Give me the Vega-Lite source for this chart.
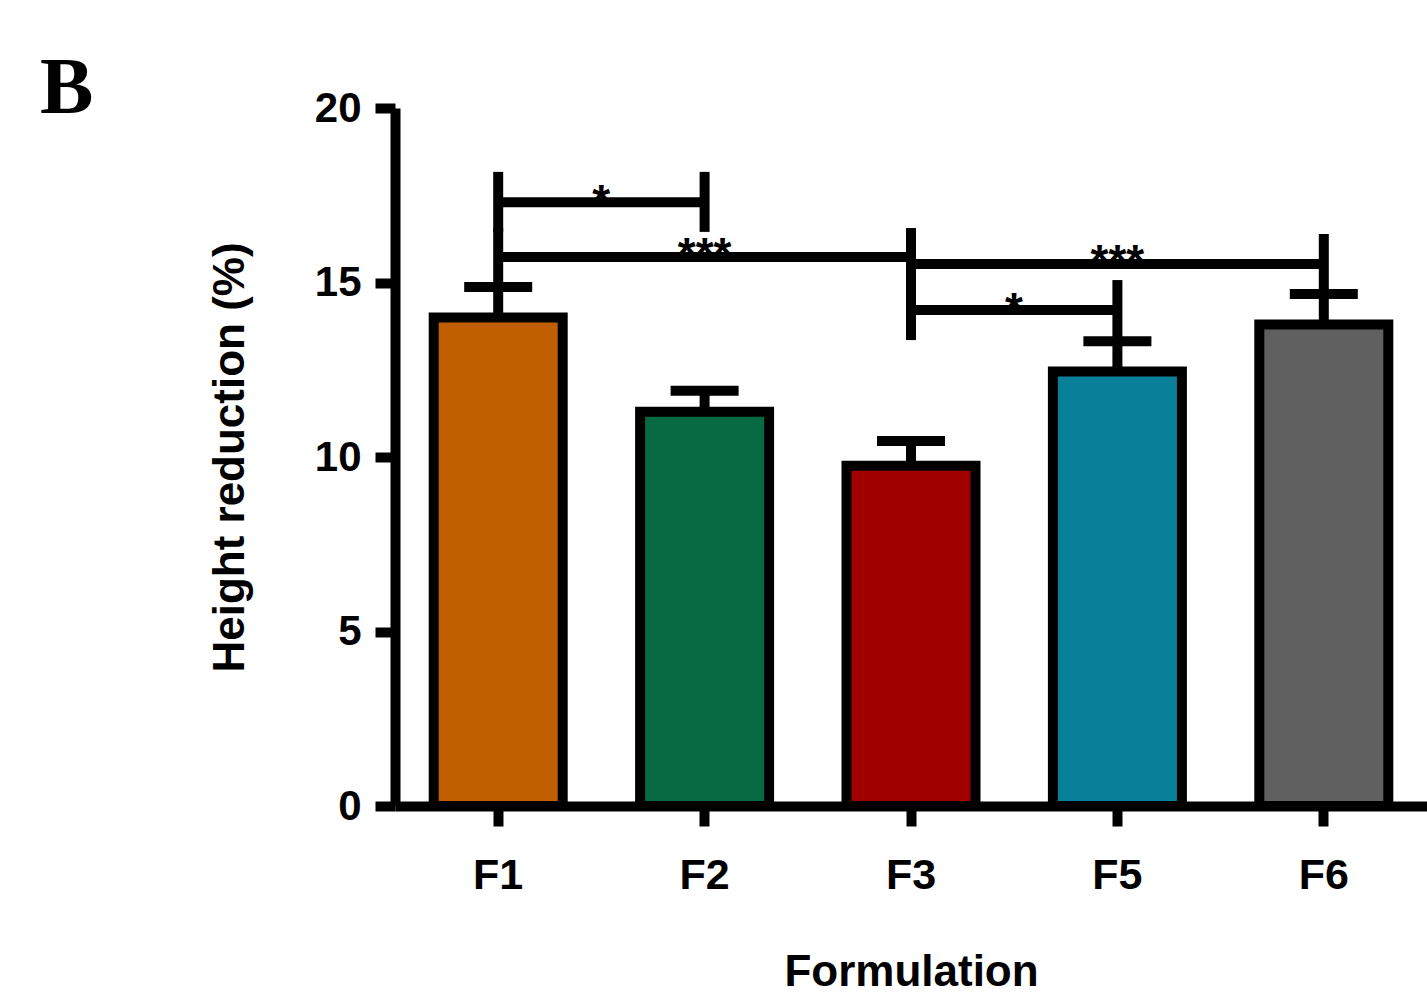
{
  "$schema": "https://vega.github.io/schema/vega-lite/v6.json",
  "width": 1032,
  "height": 698,
  "autosize": "none",
  "padding": {"left": 395, "top": 108, "right": 0, "bottom": 191},
  "background": "white",
  "config": {
    "view": {"stroke": null},
    "axis": {
      "domainColor": "black", "domainWidth": 10,
      "tickColor": "black", "tickWidth": 10, "tickSize": 20,
      "labelFont": "Liberation Sans", "labelFontWeight": "bold", "labelColor": "black",
      "titleFont": "Liberation Sans", "titleFontWeight": "bold", "titleColor": "black",
      "grid": false
    }
  },
  "title": {
    "text": "B", "anchor": "start", "frame": "group",
    "font": "Liberation Serif", "fontSize": 80, "fontWeight": "bold", "color": "black",
    "baseline": "alphabetic", "offset": 0, "dx": -355, "dy": 106
  },
  "datasets": {
    "bars": [
      {"f": "F1", "mean": 14.0, "upper": 14.87},
      {"f": "F2", "mean": 11.3, "upper": 11.9},
      {"f": "F3", "mean": 9.75, "upper": 10.46},
      {"f": "F5", "mean": 12.45, "upper": 13.32},
      {"f": "F6", "mean": 13.8, "upper": 14.67}
    ],
    "brackets": [
      {"from": "F1", "to": "F2", "mid": "F2", "level": 17.3, "lo1": 16.45, "hi1": 18.17, "lo2": 16.45, "hi2": 18.17, "label": "*"},
      {"from": "F1", "to": "F3", "mid": "F2", "level": 15.73, "lo1": 14.87, "hi1": 16.56, "lo2": 14.61, "hi2": 16.56, "label": "***"},
      {"from": "F3", "to": "F6", "mid": "F5", "level": 15.53, "lo1": 14.67, "hi1": 16.39, "lo2": 14.67, "hi2": 16.39, "label": "***"},
      {"from": "F3", "to": "F5", "mid": "F5", "level": 14.21, "lo1": 13.35, "hi1": 15.07, "lo2": 13.35, "hi2": 15.07, "label": "*"}
    ]
  },
  "layer": [
    {
      "data": {"name": "bars"},
      "mark": {"type": "rule", "strokeWidth": 10, "color": "black"},
      "encoding": {
        "x": {
          "field": "f", "type": "nominal", "sort": ["F1", "F2", "F3", "F5", "F6"],
          "scale": {"domain": ["F1", "F2", "F3", "F5", "F6"], "paddingInner": 0.375, "paddingOuter": 0.1875},
          "axis": {"title": "Formulation", "labelAngle": 0, "labelFontSize": 43, "labelPadding": 28, "titleFontSize": 44, "titlePadding": 53}
        },
        "y": {
          "field": "mean", "type": "quantitative",
          "scale": {"domain": [0, 20], "nice": false},
          "axis": {"title": "Height reduction (%)", "values": [0, 5, 10, 15, 20], "labelFontSize": 42, "labelPadding": 14, "titleFontSize": 44, "titlePadding": 62}
        },
        "y2": {"field": "upper"}
      }
    },
    {
      "data": {"name": "bars"},
      "mark": {"type": "tick", "color": "black", "size": 68, "thickness": 10, "opacity": 1},
      "encoding": {
        "x": {"field": "f", "type": "nominal"},
        "y": {"field": "upper", "type": "quantitative"}
      }
    },
    {
      "data": {"name": "bars"},
      "mark": {"type": "bar", "stroke": "black", "strokeWidth": 10},
      "encoding": {
        "x": {"field": "f", "type": "nominal"},
        "y": {"field": "mean", "type": "quantitative"},
        "fill": {
          "field": "f", "type": "nominal",
          "scale": {"domain": ["F1", "F2", "F3", "F5", "F6"], "range": ["#c05f00", "#076a43", "#a00000", "#08809a", "#606060"]},
          "legend": null
        }
      }
    },
    {
      "data": {"name": "brackets"},
      "transform": [{"filter": "datum.label === '*'"}],
      "mark": {"type": "text", "font": "Liberation Sans", "fontWeight": "bold", "fontSize": 46, "color": "black", "baseline": "alphabetic", "dx": 103, "dy": 15},
      "encoding": {
        "x": {"field": "from", "type": "nominal"},
        "y": {"field": "level", "type": "quantitative"},
        "text": {"field": "label"}
      }
    },
    {
      "data": {"name": "brackets"},
      "transform": [{"filter": "datum.label === '***'"}],
      "mark": {"type": "text", "font": "Liberation Sans", "fontWeight": "bold", "fontSize": 46, "color": "black", "baseline": "alphabetic", "dy": 13},
      "encoding": {
        "x": {"field": "mid", "type": "nominal"},
        "y": {"field": "level", "type": "quantitative"},
        "text": {"field": "label"}
      }
    },
    {
      "data": {"name": "brackets"},
      "mark": {"type": "rule", "strokeWidth": 10, "color": "black"},
      "encoding": {
        "x": {"field": "from", "type": "nominal", "bandPosition": 0.5},
        "x2": {"field": "to"},
        "y": {"field": "level", "type": "quantitative"}
      }
    },
    {
      "data": {"name": "brackets"},
      "mark": {"type": "rule", "strokeWidth": 10, "color": "black"},
      "encoding": {
        "x": {"field": "from", "type": "nominal"},
        "y": {"field": "lo1", "type": "quantitative"},
        "y2": {"field": "hi1"}
      }
    },
    {
      "data": {"name": "brackets"},
      "mark": {"type": "rule", "strokeWidth": 10, "color": "black"},
      "encoding": {
        "x": {"field": "to", "type": "nominal"},
        "y": {"field": "lo2", "type": "quantitative"},
        "y2": {"field": "hi2"}
      }
    }
  ]
}
